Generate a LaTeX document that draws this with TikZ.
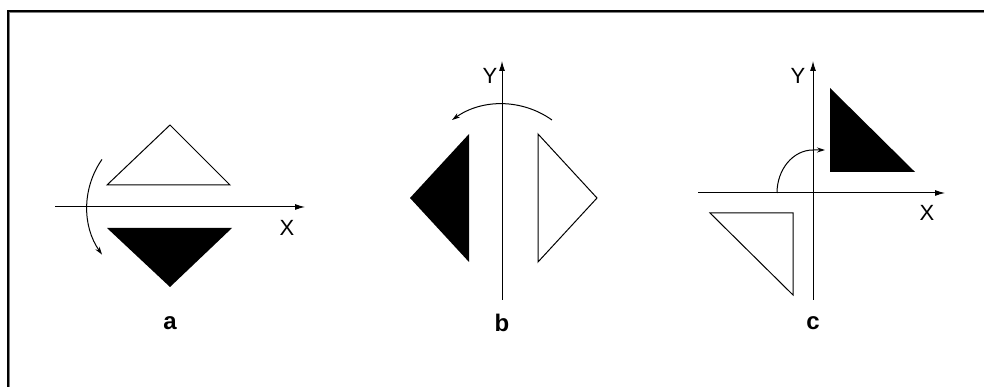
\documentclass[tikz,border=0pt]{standalone}
\usepackage{fontspec}
\setmainfont{Liberation Sans}
\usetikzlibrary{arrows.meta}
\begin{document}
\begin{tikzpicture}[x=1pt, y=1pt,
    axis/.style={line width=1pt, -{Latex[length=10pt,width=6pt]}},
    turn/.style={line width=1pt, -{Stealth[length=8pt,width=5pt]}},
    tri/.style={line width=1pt, line join=miter},
    lbl/.style={inner sep=0pt, font=\fontsize{22}{22}\selectfont},
    panelname/.style={inner sep=0pt, font=\fontsize{24}{24}\selectfont\bfseries}]
    \useasboundingbox (0,0) rectangle (984,387);
    % frame
    \draw[line width=2pt] (8,0) -- (8,376) -- (984,376);
    \draw[gray, line width=1pt] (9.5,0) -- (9.5,374.5) -- (984,374.5);

    % a: turn about X
    \coordinate (ax0) at (55,180);
    \coordinate (ax1) at (305,180);
    \coordinate (ao) at (170,180);
    \draw[axis] (ax0) -- (ax1);
    \node[lbl] (xa) at (287,159) {X};
    \draw[tri] (107,202) -- (230,202) -- (170,262) -- cycle;
    \fill (107,159) -- (232,159) -- (170,100) -- cycle;
    \draw[turn] (ao) ++(145:83) arc[start angle=145, end angle=215, radius=83];
    \node[panelname] (a) at (170,64) {a};

    % b: turn about Y
    \coordinate (by0) at (502,87);
    \coordinate (by1) at (502,326);
    \coordinate (bo) at (502,197);
    \draw[axis] (by0) -- (by1);
    \node[lbl] (yb) at (490,311) {Y};
    \fill (469,253) -- (469,125) -- (410,189) -- cycle;
    \draw[tri] (538,253) -- (538,125) -- (597,189) -- cycle;
    \draw[turn] (bo) ++(54.5:86) arc[start angle=54.5, end angle=125.5, radius=86];
    \node[panelname] (b) at (502,64) {b};

    % c: turn in the plane
    \coordinate (cx0) at (698,194);
    \coordinate (cx1) at (945,194);
    \coordinate (cy0) at (813,87);
    \coordinate (cy1) at (813,326);
    \coordinate (cs) at (777,194);
    \draw[axis] (cx0) -- (cx1);
    \draw[axis] (cy0) -- (cy1);
    \node[lbl] (xc) at (927,174) {X};
    \node[lbl] (yc) at (798,311) {Y};
    \fill (830,299) -- (830,215) -- (915,215) -- cycle;
    \draw[tri] (710,174) -- (793,174) -- (793,92) -- cycle;
    \draw[turn] (cs) arc[start angle=180, end angle=90, x radius=36, y radius=43] -- ++(12,0);
    \node[panelname] (c) at (813,64) {c};
\end{tikzpicture}
\end{document}
